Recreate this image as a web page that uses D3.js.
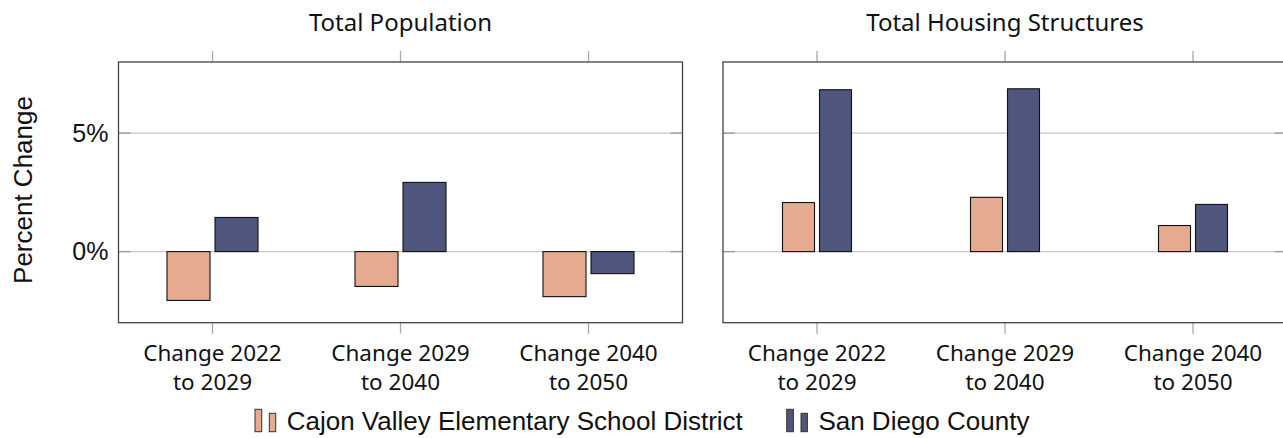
<!DOCTYPE html>
<html>
<head>
<meta charset="utf-8">
<script src="https://cdn.jsdelivr.net/npm/d3@7"></script>
<style>
  body { margin: 0; background: #fff; }
  svg { display: block; }
</style>
</head>
<body>
<svg width="1283" height="438"></svg>
<script>
// chart data
const categories = ["Change 2022\nto 2029", "Change 2029\nto 2040", "Change 2040\nto 2050"];
const seriesNames = ["Cajon Valley Elementary School District", "San Diego County"];
const panelTitles = ["Total Population", "Total Housing Structures"];
const cajonPopulation = [-2.06, -1.47, -1.9];
const sandiegoPopulation = [1.44, 2.92, -0.93];
const cajonHousing = [2.07, 2.29, 1.10];
const sandiegoHousing = [6.83, 6.87, 1.99];
const yTicks = [0, 5];
const yDomain = [-3, 8];

const colors = ["#e6aa90", "#4e567e"];
const titleFont = "'Noto Sans', sans-serif";
const plainFont = "'Liberation Sans', Arial, sans-serif";

const svg = d3.select("svg");
const plotTop = 62, plotBottom = 322.7, panelW = 564;

const panels = [
  {title: panelTitles[0], left: 118.5, barW: 43, values: [cajonPopulation, sandiegoPopulation]},
  {title: panelTitles[1], left: 723, barW: 32, values: [cajonHousing, sandiegoHousing]}
];

const y = d3.scaleLinear().domain(yDomain).range([plotBottom, plotTop]);

panels.forEach((p, pi) => {
  const g = svg.append("g");
  const x0 = d3.scaleBand().domain(categories).range([p.left, p.left + panelW]);
  const x1 = d3.scaleBand().domain(seriesNames)
      .range([-(p.barW + 2.5), p.barW + 2.5])
      .paddingInner(5 / (p.barW + 5));
  const cx = d => x0(d) + x0.bandwidth() / 2;

  // grid lines
  g.selectAll(null).data(yTicks).enter().append("line")
    .attr("x1", p.left).attr("x2", p.left + panelW)
    .attr("y1", d => y(d)).attr("y2", d => y(d))
    .attr("stroke", "#c8c8c8").attr("stroke-width", 1.2);

  // inner ticks on both sides
  [[p.left, p.left + 12], [p.left + panelW - 12, p.left + panelW]].forEach(s => {
    g.selectAll(null).data(yTicks).enter().append("line")
      .attr("x1", s[0]).attr("x2", s[1])
      .attr("y1", d => y(d)).attr("y2", d => y(d))
      .attr("stroke", "#999").attr("stroke-width", 1.3);
  });

  // outward ticks top and bottom
  g.selectAll(null).data(categories).enter().append("line")
    .attr("x1", cx).attr("x2", cx)
    .attr("y1", plotTop - 11).attr("y2", plotTop)
    .attr("stroke", "#aaa").attr("stroke-width", 1.3);
  g.selectAll(null).data(categories).enter().append("line")
    .attr("x1", cx).attr("x2", cx)
    .attr("y1", plotBottom).attr("y2", plotBottom + 11)
    .attr("stroke", "#aaa").attr("stroke-width", 1.3);

  // bars
  seriesNames.forEach((s, si) => {
    g.selectAll(null).data(p.values[si]).enter().append("rect")
      .attr("x", (d, i) => cx(categories[i]) + x1(s))
      .attr("width", x1.bandwidth())
      .attr("y", d => y(Math.max(0, d)))
      .attr("height", d => Math.abs(y(d) - y(0)))
      .attr("fill", colors[si])
      .attr("stroke", "#111").attr("stroke-width", 1.1);
  });

  // frame
  g.append("rect")
    .attr("x", p.left).attr("y", plotTop)
    .attr("width", panelW).attr("height", plotBottom - plotTop)
    .attr("fill", "none").attr("stroke", "#444").attr("stroke-width", 1.3);

  // title
  g.append("text")
    .attr("x", p.left + panelW / 2).attr("y", 31)
    .attr("text-anchor", "middle")
    .style("font-family", titleFont).style("font-size", "24px").attr("fill", "#111")
    .text(p.title);

  // category labels
  categories.forEach(c => {
    const t = g.append("text")
      .attr("text-anchor", "middle")
      .style("font-family", titleFont).style("font-size", "22.5px").attr("fill", "#111");
    c.split("\n").forEach((line, li) => {
      t.append("tspan")
        .attr("x", cx(c))
        .attr("y", 361 + li * 29)
        .text(line);
    });
  });

  // y tick labels on first panel only
  if (pi === 0) {
    g.selectAll(null).data(yTicks).enter().append("text")
      .attr("x", p.left - 10).attr("y", d => y(d))
      .attr("dy", "0.35em")
      .attr("text-anchor", "end")
      .style("font-family", plainFont).style("font-size", "25px").attr("fill", "#111")
      .text(d => d + "%");
  }
});

// y axis title
svg.append("text")
  .attr("transform", "translate(32,190) rotate(-90)")
  .attr("text-anchor", "middle")
  .style("font-family", plainFont).style("font-size", "26px").attr("fill", "#111")
  .text("Percent Change");

// legend
const legendX = [255, 786.7];
seriesNames.forEach((s, si) => {
  const lg = svg.append("g").attr("transform", `translate(${legendX[si]},0)`);
  lg.append("rect").attr("x", 0).attr("y", 409.3).attr("width", 6.7).attr("height", 22.4)
    .attr("fill", colors[si]).attr("stroke", "#333").attr("stroke-width", 1);
  lg.append("rect").attr("x", 14.3).attr("y", 413.3).attr("width", 6.4).attr("height", 18.4)
    .attr("fill", colors[si]).attr("stroke", "#333").attr("stroke-width", 1);
  lg.append("text").attr("x", 31.7).attr("y", 430)
    .style("font-family", plainFont).style("font-size", "26px").attr("fill", "#111")
    .text(s);
});
</script>
</body>
</html>
